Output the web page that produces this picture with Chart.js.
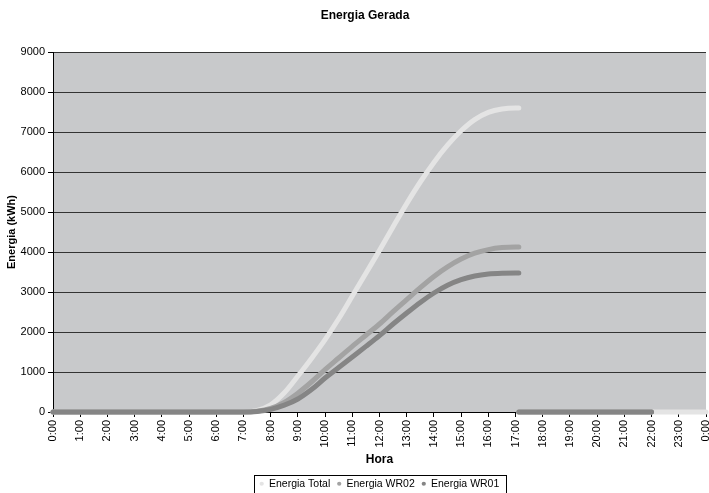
<!DOCTYPE html>
<html>
<head>
<meta charset="utf-8">
<script src="https://cdn.jsdelivr.net/npm/chart.js@4.4.1/dist/chart.umd.min.js"></script>
<style>
  html, body { margin: 0; padding: 0; background: #ffffff; }
  #wrap { width: 709px; height: 493px; position: relative; }
</style>
</head>
<body>
<div id="wrap"><canvas id="c" width="709" height="493"></canvas></div>
<script>
// ---- data ----
const chartTitle = "Energia Gerada";
const xTitle = "Hora";
const yTitle = "Energia (kWh)";
const seriesNames = ["Energia Total", "Energia WR02", "Energia WR01"];
// time of day in hours
const hours = [0, 6.5, 7, 7.5, 8, 8.5, 9, 9.5, 10, 10.5, 11, 11.5, 12, 12.5, 13, 13.5, 14, 14.5, 15, 15.5, 16, 16.5, 17, 17.12, 17.12, 17.12, 22, 24];
const energiaTotal = [0, 0, 0, 40, 180, 480, 900, 1340, 1810, 2330, 2900, 3470, 4040, 4630, 5210, 5750, 6240, 6670, 7030, 7310, 7490, 7575, 7600, 7600, null, 0, 0, 0];
const energiaWR02 = [0, 0, 0, 20, 90, 240, 470, 750, 1060, 1350, 1640, 1920, 2200, 2510, 2810, 3110, 3390, 3630, 3825, 3970, 4060, 4110, 4125, 4125, null, 0, 0, null];
const energiaWR01 = [0, 0, 0, 15, 65, 170, 325, 560, 850, 1110, 1375, 1640, 1910, 2200, 2475, 2740, 2975, 3170, 3310, 3400, 3450, 3470, 3475, 3475, null, 0, 0, null];
const yTicks = [0, 1000, 2000, 3000, 4000, 5000, 6000, 7000, 8000, 9000];
const xTickHours = [0,1,2,3,4,5,6,7,8,9,10,11,12,13,14,15,16,17,18,19,20,21,22,23,24];

const FONT = "'Liberation Sans', Arial, sans-serif";
const toPoints = (vals) => hours.map((h, i) => ({ x: h, y: vals[i] }));

const plotBg = {
  id: 'plotBg',
  beforeDraw(chart) {
    const { ctx, chartArea: a } = chart;
    ctx.save();
    ctx.fillStyle = '#c8c9cb';
    ctx.fillRect(a.left, a.top, a.right - a.left, a.bottom - a.top);
    ctx.restore();
  }
};

const titleShift = {
  id: 'titleShift',
  afterLayout(chart) {
    const t = chart.titleBlock;
    if (t) { t.left = 21; t.right = 709; }
  }
};

const legendBox = {
  id: 'legendBox',
  afterDraw(chart) {
    const lg = chart.legend;
    if (!lg || !lg.legendHitBoxes || !lg.legendHitBoxes.length) return;
    const hb = lg.legendHitBoxes;
    let l = Infinity, r = -Infinity;
    hb.forEach(b => { l = Math.min(l, b.left); r = Math.max(r, b.left + b.width); });
    const cy = hb[0].top + hb[0].height / 2;
    const ctx = chart.ctx;
    ctx.save();
    ctx.strokeStyle = '#000';
    ctx.lineWidth = 1;
    ctx.strokeRect(Math.round(l - 6) + 0.5, Math.round(cy - 9) + 0.5, Math.round(r - l + 12), 18);
    ctx.restore();
  }
};

const colors = ['#e4e4e4', '#a3a3a3', '#858585'];

new Chart(document.getElementById('c'), {
  type: 'line',
  data: {
    datasets: [
      { label: seriesNames[0], data: toPoints(energiaTotal), order: 3 },
      { label: seriesNames[1], data: toPoints(energiaWR02), order: 2 },
      { label: seriesNames[2], data: toPoints(energiaWR01), order: 1 }
    ].map((d, i) => Object.assign(d, {
      borderColor: colors[i],
      backgroundColor: colors[i],
      borderWidth: 5,
      borderCapStyle: 'round',
      borderJoinStyle: 'round',
      pointRadius: 0,
      cubicInterpolationMode: 'monotone',
      spanGaps: false,
      fill: false,
      clip: 4
    }))
  },
  options: {
    responsive: false,
    animation: false,
    devicePixelRatio: 1,
    layout: { padding: { left: 0, right: 3, top: 0, bottom: -6 } },
    plugins: {
      title: {
        display: true,
        text: chartTitle,
        color: '#000',
        font: { family: FONT, size: 12, weight: 'bold' },
        padding: { top: 8, bottom: 29.6 }
      },
      legend: {
        position: 'bottom',
        fullSize: false,
        labels: {
          usePointStyle: true,
          pointStyle: 'circle',
          boxWidth: 4,
          boxHeight: 3,
          padding: 7,
          color: '#000',
          font: { family: FONT, size: 10.5 },
          sort: (a, b) => a.datasetIndex - b.datasetIndex,
          generateLabels: (chart) => Chart.defaults.plugins.legend.labels.generateLabels(chart)
            .map(it => Object.assign(it, { lineWidth: 0 }))
        }
      },
      tooltip: { enabled: false }
    },
    scales: {
      x: {
        type: 'linear',
        min: 0,
        max: 24,
        afterBuildTicks: (s) => { s.ticks = xTickHours.map(v => ({ value: v })); },
        afterFit: (s) => { s.height = 59.5; s.paddingLeft = 0; s.paddingRight = 0; },
        ticks: {
          autoSkip: false,
          maxRotation: 90,
          minRotation: 90,
          padding: 3,
          color: '#000',
          font: { family: FONT, size: 11 },
          callback: (v) => (v % 24) + ':00'
        },
        grid: {
          drawOnChartArea: false,
          drawTicks: true,
          tickLength: 5,
          color: '#000'
        },
        border: { display: true, color: '#000', width: 1 },
        title: {
          display: true,
          text: xTitle,
          color: '#000',
          font: { family: FONT, size: 12, weight: 'bold' },
          padding: { top: 0, bottom: 5 }
        }
      },
      y: {
        type: 'linear',
        min: 0,
        max: 9000,
        afterBuildTicks: (s) => { s.ticks = yTicks.map(v => ({ value: v })); },
        afterFit: (s) => { s.width = 53; s.paddingTop = 0; s.paddingBottom = 0; },
        ticks: {
          padding: 3,
          color: '#000',
          font: { family: FONT, size: 11 },
          callback: (v) => String(v)
        },
        grid: {
          drawOnChartArea: true,
          drawTicks: true,
          tickLength: 5,
          color: '#333',
          tickColor: '#000'
        },
        border: { display: true, color: '#000', width: 1 },
        title: {
          display: true,
          text: yTitle,
          color: '#000',
          font: { family: FONT, size: 11, weight: 'bold' },
          padding: { top: 5, bottom: 0 }
        }
      }
    }
  },
  plugins: [plotBg, titleShift, legendBox]
});
</script>
</body>
</html>
